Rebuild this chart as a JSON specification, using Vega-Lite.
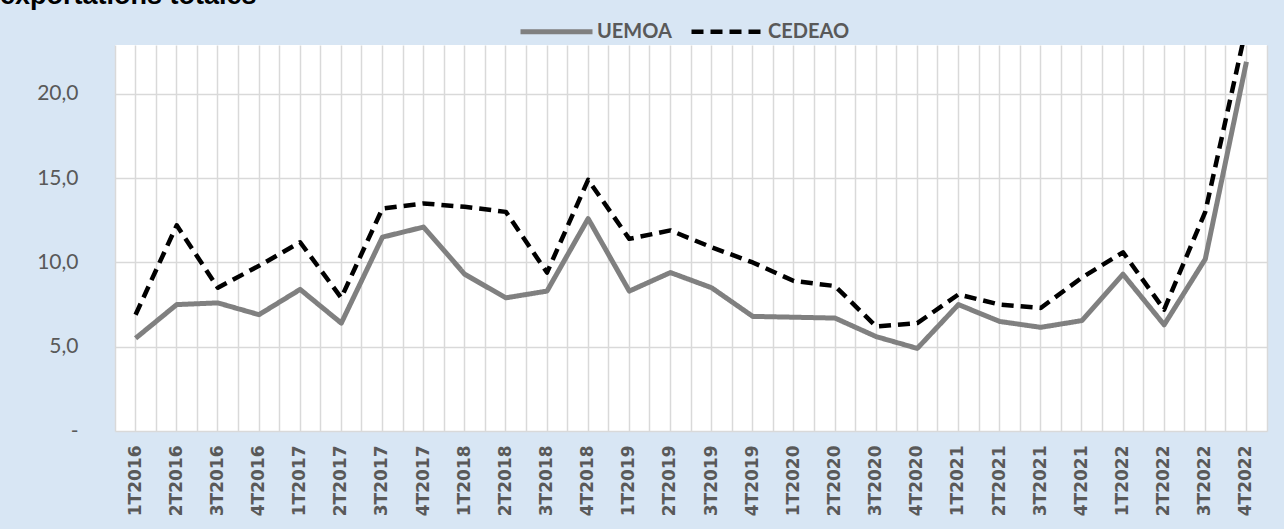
{
  "$schema": "https://vega.github.io/schema/vega-lite/v6.json",
  "width": 1152,
  "height": 386,
  "autosize": {"type": "none"},
  "padding": {"left": 115, "top": 45, "right": 17, "bottom": 98},
  "background": "#d8e6f4",
  "config": {
    "view": {"fill": "white", "stroke": null},
    "axis": {"gridColor": "#d9d9d9", "gridWidth": 1.5, "domain": false, "ticks": false, "title": null}
  },
  "title": {
    "text": "exportations totales",
    "anchor": "start",
    "frame": "group",
    "orient": "top",
    "dx": -115,
    "offset": -38,
    "baseline": "alphabetic",
    "font": "Liberation Sans",
    "fontSize": 27,
    "fontWeight": "bold",
    "color": "#000000"
  },
  "data": {
    "values": [
      {"q": "1T2016", "serie": "UEMOA", "v": 5.5}, {"q": "2T2016", "serie": "UEMOA", "v": 7.5},
      {"q": "3T2016", "serie": "UEMOA", "v": 7.6}, {"q": "4T2016", "serie": "UEMOA", "v": 6.9},
      {"q": "1T2017", "serie": "UEMOA", "v": 8.4}, {"q": "2T2017", "serie": "UEMOA", "v": 6.4},
      {"q": "3T2017", "serie": "UEMOA", "v": 11.5}, {"q": "4T2017", "serie": "UEMOA", "v": 12.1},
      {"q": "1T2018", "serie": "UEMOA", "v": 9.3}, {"q": "2T2018", "serie": "UEMOA", "v": 7.9},
      {"q": "3T2018", "serie": "UEMOA", "v": 8.3}, {"q": "4T2018", "serie": "UEMOA", "v": 12.6},
      {"q": "1T2019", "serie": "UEMOA", "v": 8.3}, {"q": "2T2019", "serie": "UEMOA", "v": 9.4},
      {"q": "3T2019", "serie": "UEMOA", "v": 8.5}, {"q": "4T2019", "serie": "UEMOA", "v": 6.8},
      {"q": "1T2020", "serie": "UEMOA", "v": 6.75}, {"q": "2T2020", "serie": "UEMOA", "v": 6.7},
      {"q": "3T2020", "serie": "UEMOA", "v": 5.6}, {"q": "4T2020", "serie": "UEMOA", "v": 4.9},
      {"q": "1T2021", "serie": "UEMOA", "v": 7.5}, {"q": "2T2021", "serie": "UEMOA", "v": 6.5},
      {"q": "3T2021", "serie": "UEMOA", "v": 6.15}, {"q": "4T2021", "serie": "UEMOA", "v": 6.55},
      {"q": "1T2022", "serie": "UEMOA", "v": 9.3}, {"q": "2T2022", "serie": "UEMOA", "v": 6.3},
      {"q": "3T2022", "serie": "UEMOA", "v": 10.2}, {"q": "4T2022", "serie": "UEMOA", "v": 21.9},
      {"q": "1T2016", "serie": "CEDEAO", "v": 6.9}, {"q": "2T2016", "serie": "CEDEAO", "v": 12.2},
      {"q": "3T2016", "serie": "CEDEAO", "v": 8.5}, {"q": "4T2016", "serie": "CEDEAO", "v": 9.8},
      {"q": "1T2017", "serie": "CEDEAO", "v": 11.2}, {"q": "2T2017", "serie": "CEDEAO", "v": 7.9},
      {"q": "3T2017", "serie": "CEDEAO", "v": 13.2}, {"q": "4T2017", "serie": "CEDEAO", "v": 13.5},
      {"q": "1T2018", "serie": "CEDEAO", "v": 13.3}, {"q": "2T2018", "serie": "CEDEAO", "v": 13.0},
      {"q": "3T2018", "serie": "CEDEAO", "v": 9.4}, {"q": "4T2018", "serie": "CEDEAO", "v": 14.9},
      {"q": "1T2019", "serie": "CEDEAO", "v": 11.4}, {"q": "2T2019", "serie": "CEDEAO", "v": 11.9},
      {"q": "3T2019", "serie": "CEDEAO", "v": 10.9}, {"q": "4T2019", "serie": "CEDEAO", "v": 10.0},
      {"q": "1T2020", "serie": "CEDEAO", "v": 8.9}, {"q": "2T2020", "serie": "CEDEAO", "v": 8.6},
      {"q": "3T2020", "serie": "CEDEAO", "v": 6.2}, {"q": "4T2020", "serie": "CEDEAO", "v": 6.4},
      {"q": "1T2021", "serie": "CEDEAO", "v": 8.1}, {"q": "2T2021", "serie": "CEDEAO", "v": 7.5},
      {"q": "3T2021", "serie": "CEDEAO", "v": 7.3}, {"q": "4T2021", "serie": "CEDEAO", "v": 9.1},
      {"q": "1T2022", "serie": "CEDEAO", "v": 10.6}, {"q": "2T2022", "serie": "CEDEAO", "v": 7.2},
      {"q": "3T2022", "serie": "CEDEAO", "v": 13.0}, {"q": "4T2022", "serie": "CEDEAO", "v": 24.0}
    ]
  },
  "resolve": {"axis": {"x": "independent", "y": "independent"}},
  "layer": [
    {
      "mark": {"type": "line", "clip": true, "strokeCap": "butt", "strokeJoin": "round"},
      "encoding": {
        "x": {
          "field": "q", "type": "ordinal", "sort": null,
          "scale": {"type": "band", "paddingInner": 0, "paddingOuter": 0},
          "axis": {
            "orient": "bottom", "grid": true, "bandPosition": 0.5,
            "labelAngle": 270, "labelPadding": 14,
            "labelFont": "DejaVu Sans", "labelFontWeight": "bold", "labelFontSize": 17,
            "labelColor": "#595959"
          }
        },
        "y": {
          "field": "v", "type": "quantitative",
          "scale": {"domain": [0, 22.9], "nice": false, "zero": true},
          "axis": {
            "orient": "left", "values": [0, 5, 10, 15, 20], "grid": true,
            "offset": 28,
            "labelExpr": "datum.value == 0 ? '-\u00a0\u00a0' : replace(format(datum.value, '.1f'), '.', ',')",
            "labelPadding": 9, "labelFont": "Lato", "labelFontSize": 21, "labelColor": "#595959"
          }
        },
        "color": {
          "field": "serie", "type": "nominal",
          "scale": {"domain": ["UEMOA", "CEDEAO"], "range": ["#808080", "#000000"]},
          "legend": {
            "title": null, "orient": "none", "legendX": 403, "legendY": -52,
            "direction": "horizontal", "symbolType": "stroke", "symbolSize": 5184,
            "labelFont": "Lato", "labelFontWeight": "bold", "labelFontSize": 20,
            "labelColor": "#595959", "labelOffset": 2, "columnPadding": 10
          }
        },
        "strokeDash": {
          "field": "serie", "type": "nominal",
          "scale": {"domain": ["UEMOA", "CEDEAO"], "range": [[1, 0], [12, 7]]},
          "legend": {
            "title": null, "orient": "none", "legendX": 403, "legendY": -52,
            "direction": "horizontal", "symbolType": "stroke", "symbolSize": 5184,
            "labelFont": "Lato", "labelFontWeight": "bold", "labelFontSize": 20,
            "labelColor": "#595959", "labelOffset": 2, "columnPadding": 10
          }
        },
        "strokeWidth": {
          "field": "serie", "type": "nominal",
          "scale": {"domain": ["UEMOA", "CEDEAO"], "range": [5, 4.5]},
          "legend": {
            "title": null, "orient": "none", "legendX": 403, "legendY": -52,
            "direction": "horizontal", "symbolType": "stroke", "symbolSize": 5184,
            "labelFont": "Lato", "labelFontWeight": "bold", "labelFontSize": 20,
            "labelColor": "#595959", "labelOffset": 2, "columnPadding": 10
          }
        }
      }
    },
    {
      "mark": {"type": "line", "opacity": 0},
      "encoding": {
        "x": {
          "field": "q", "type": "ordinal", "sort": null,
          "axis": {"orient": "bottom", "grid": true, "bandPosition": 0, "labels": false}
        },
        "y": {
          "field": "v", "type": "quantitative",
          "axis": {"orient": "right", "grid": false, "labels": false, "domain": true, "domainColor": "#d9d9d9", "domainWidth": 1.5}
        },
        "detail": {"field": "serie"}
      }
    }
  ]
}
